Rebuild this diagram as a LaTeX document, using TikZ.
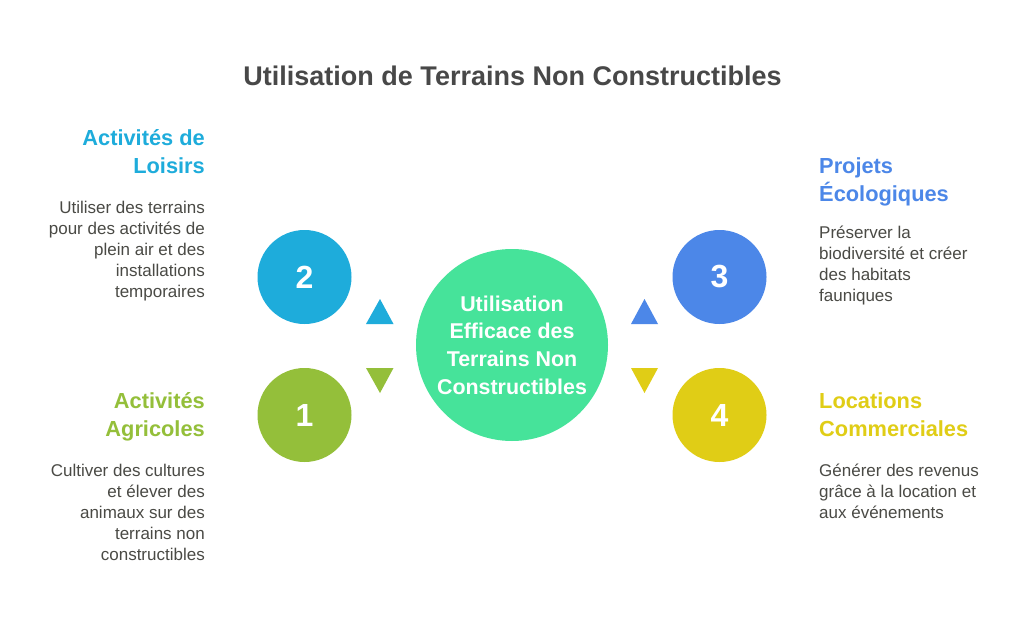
\documentclass[tikz,border=0pt]{standalone}
\usepackage{fontspec}
\setmainfont{Liberation Sans}
\definecolor{ctitle}{HTML}{484848}
\definecolor{cbody}{HTML}{4A4A45}
\definecolor{cblue}{HTML}{1EACDB}
\definecolor{cgreen}{HTML}{94BF3A}
\definecolor{croyal}{HTML}{4C87E8}
\definecolor{cyellow}{HTML}{E0CD16}
\definecolor{cmint}{HTML}{46E39A}
\tikzset{
  disc/.style={circle,inner sep=0pt,minimum size=94pt,text=white,font=\fontsize{32}{36}\selectfont\bfseries},
  head/.style={inner sep=0pt,font=\fontsize{21.8}{28}\selectfont\bfseries},
  body/.style={inner sep=0pt,text=cbody,font=\fontsize{17}{21}\selectfont},
}
\begin{document}
\begin{tikzpicture}[x=1pt,y=-1pt]
\useasboundingbox[fill=white] (0,0) rectangle (1024,623);
\node[inner sep=0pt,text=ctitle,font=\fontsize{27}{30}\selectfont\bfseries] (title) at (512.5,76) {Utilisation de Terrains Non Constructibles};
\node[disc,fill=cblue] (n2) at (304.5,277) {2};
\node[disc,fill=cgreen] (n1) at (304.5,415) {1};
\node[disc,fill=croyal] (n3) at (719.5,277) {3};
\node[disc,fill=cyellow] (n4) at (719.5,415) {4};
\node[circle,fill=cmint,inner sep=0pt,minimum size=192pt,text=white,align=center,font=\fontsize{21.4}{27.6}\selectfont\bfseries] (center) at (512,345) {Utilisation\\Efficace des\\Terrains Non\\Constructibles};
\fill[cblue] (366,324) -- (380,299) -- (393.5,324) -- cycle;
\fill[cgreen] (366,368) -- (380,393) -- (393.5,368) -- cycle;
\fill[croyal] (631,324) -- (644.5,299) -- (658,324) -- cycle;
\fill[cyellow] (631,368) -- (644.5,393) -- (658,368) -- cycle;
\node[head,text=cblue,align=right,anchor=north east] (h2) at (205,129) {Activités de\\Loisirs};
\node[body,align=right,anchor=north east] (b2) at (205,200.5) {Utiliser des terrains\\pour des activités de\\plein air et des\\installations\\temporaires};
\node[head,text=cgreen,align=right,anchor=north east] (h1) at (205,392) {Activités\\Agricoles};
\node[body,align=right,anchor=north east] (b1) at (205,464) {Cultiver des cultures\\et élever des\\animaux sur des\\terrains non\\constructibles};
\node[head,text=croyal,align=left,anchor=north west] (h3) at (819,157.5) {Projets\\Écologiques};
\node[body,align=left,anchor=north west] (b3) at (819,225.5) {Préserver la\\biodiversité et créer\\des habitats\\fauniques};
\node[head,text=cyellow,align=left,anchor=north west] (h4) at (819,392) {Locations\\Commerciales};
\node[body,align=left,anchor=north west] (b4) at (819,464) {Générer des revenus\\grâce à la location et\\aux événements};
\end{tikzpicture}
\end{document}
